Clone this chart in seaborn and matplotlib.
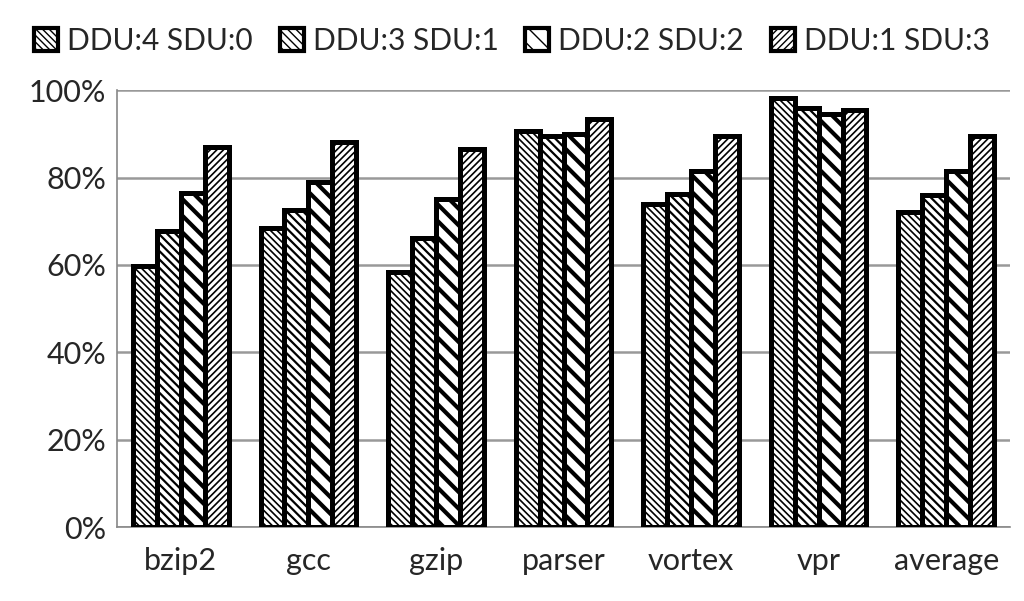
import matplotlib
matplotlib.use("Agg")
import matplotlib.pyplot as plt
import seaborn as sns
import pandas as pd
from matplotlib.patches import Patch

categories = ["bzip2", "gcc", "gzip", "parser", "vortex", "vpr", "average"]
series = ["DDU:4 SDU:0", "DDU:3 SDU:1", "DDU:2 SDU:2", "DDU:1 SDU:3"]
s1 = [59.8, 68.5, 58.3, 90.6, 74.0, 98.3, 72.1]
s2 = [67.7, 72.5, 66.1, 89.6, 76.3, 96.0, 75.9]
s3 = [76.5, 79.0, 75.2, 90.0, 81.5, 94.5, 81.5]
s4 = [87.1, 88.2, 86.5, 93.5, 89.4, 95.4, 89.4]
yticks = [0, 20, 40, 60, 80, 100]

rows = []
for name, vals in zip(series, [s1, s2, s3, s4]):
    for c, v in zip(categories, vals):
        rows.append({"cat": c, "series": name, "val": v})
df = pd.DataFrame(rows)

sns.set_style("white")
plt.rcParams["font.family"] = ["Lato", "DejaVu Sans"]
hatches = ["\\\\\\\\\\", "\\\\\\\\", "\\\\", "/////"]
hlw = [1.2, 1.6, 3.0, 1.2]

fig = plt.figure(figsize=(10.24, 6.01), dpi=100)
ax = fig.add_axes([0.1143, 0.123, 0.872, 0.727])
sns.barplot(data=df, x="cat", y="val", hue="series", order=categories,
            hue_order=series, palette=["white"] * 4, width=0.75, gap=0,
            edgecolor="black", linewidth=3.6, legend=False, ax=ax, zorder=3)
for i, cont in enumerate(ax.containers):
    for p in cont:
        p.set_hatch(hatches[i])
        try:
            p.set_hatch_linewidth(hlw[i])
        except Exception:
            pass
ax.set_ylim(0, 100)
ax.set_xlim(-0.5, len(categories) - 0.5)
ax.set_yticks(yticks)
ax.set_yticklabels([f"{t}%" for t in yticks], fontsize=22)
ax.tick_params(axis="x", labelsize=22, length=0, pad=14)
ax.tick_params(axis="y", length=0, pad=8)
ax.set_xticks(range(len(categories)))
ax.set_xticklabels(categories)
ax.set_xticks([i + 0.5 for i in range(-1, len(categories))], minor=True)
ax.tick_params(axis="x", which="minor", length=8, width=1.2, color="#888888", direction="out")
ax.set_xlabel("")
ax.set_ylabel("")
ax.yaxis.grid(True, color="#999999", linewidth=1.8, zorder=0)
ax.set_axisbelow(True)
for s in ["top", "right"]:
    ax.spines[s].set_visible(False)
ax.spines["left"].set_color("#888888")
ax.spines["bottom"].set_color("#888888")
ax.spines["left"].set_linewidth(1.2)
ax.spines["bottom"].set_linewidth(1.2)

handles = []
for i, name in enumerate(series):
    handles.append(Patch(facecolor="white", edgecolor="black", linewidth=3, hatch=hatches[i], label=name))
fig.legend(handles=handles, loc="upper center", bbox_to_anchor=(0.5, 1.0), ncol=4,
           frameon=False, fontsize=21.5, handlelength=0.8, handleheight=0.8,
           handletextpad=0.3, columnspacing=0.9)
fig.savefig("out.png", dpi=100)
